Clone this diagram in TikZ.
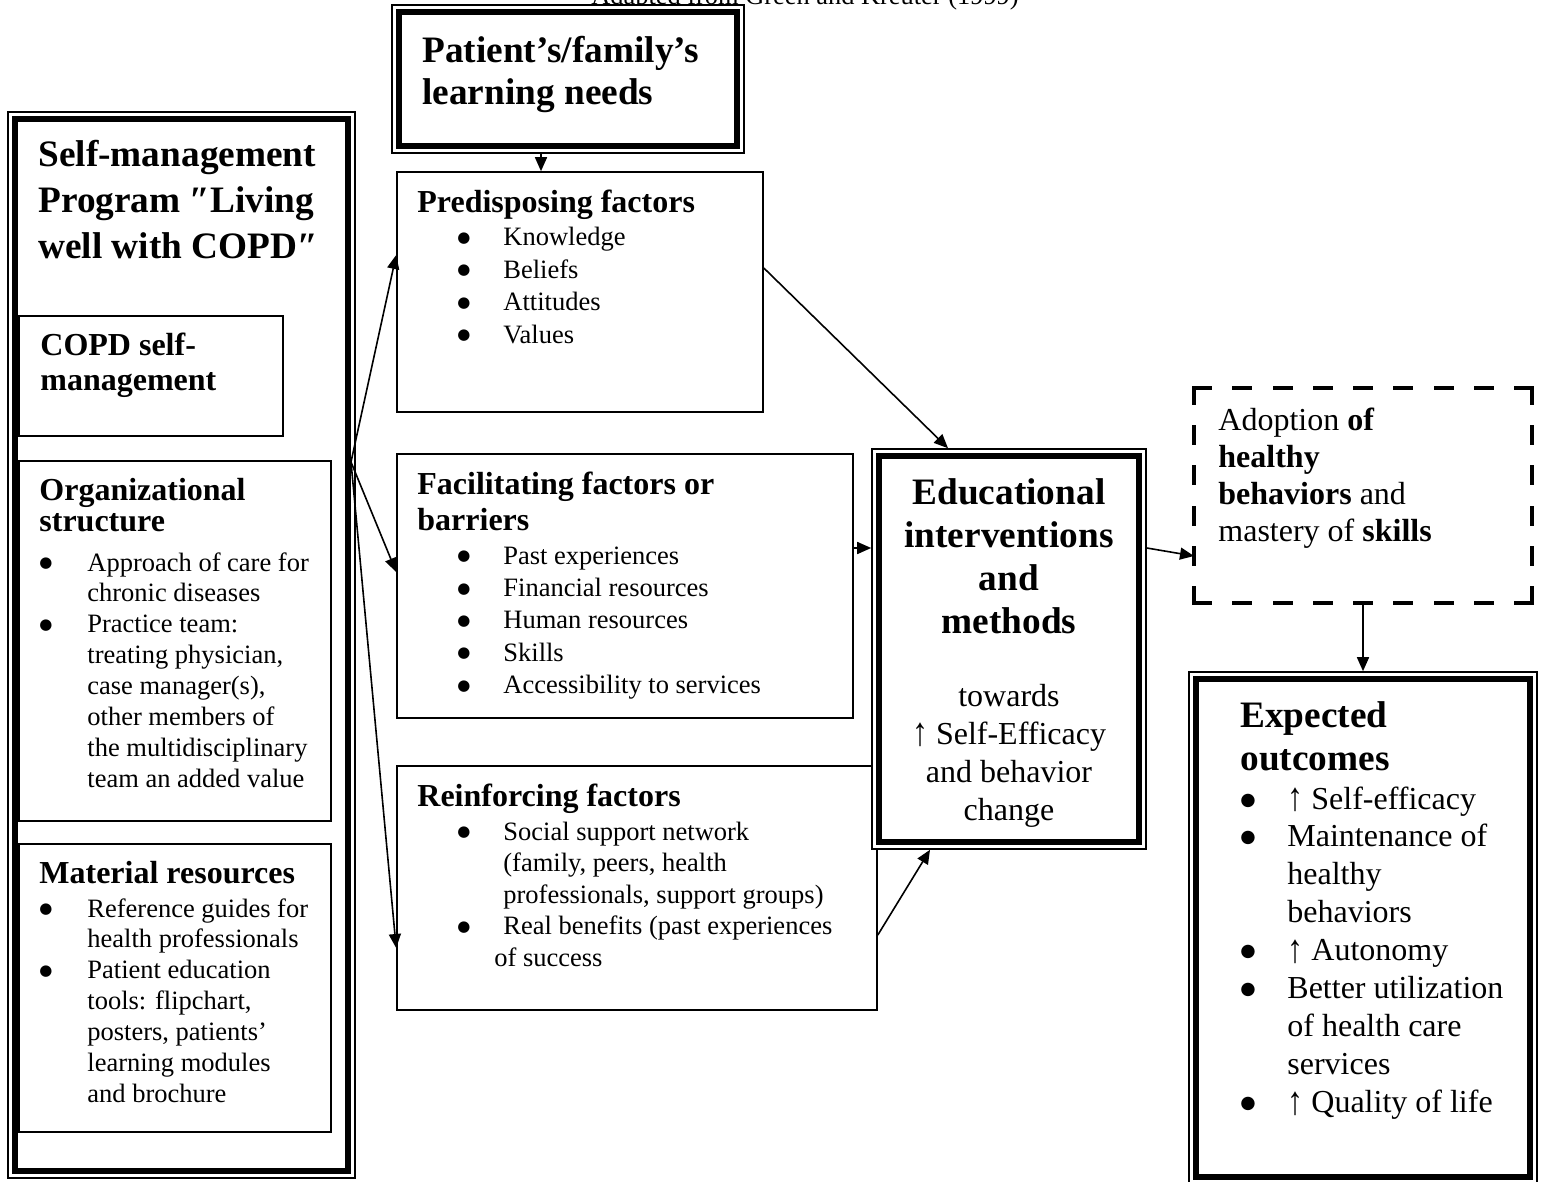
\documentclass[tikz,border=0pt]{standalone}
\usepackage{graphicx}
\usepackage{fontspec}
\setmainfont{Liberation Serif}
\newfontfamily\BulFont{DejaVu Sans}
\usetikzlibrary{arrows.meta,fit}
\newcommand\FTitle{\fontsize{18.65}{23}\selectfont\bfseries}
\newcommand\FHead{\fontsize{16}{17.5}\selectfont\bfseries}
\newcommand\FHeadA{\fontsize{16}{16}\selectfont\bfseries}
\newcommand\FHeadB{\fontsize{16}{18}\selectfont\bfseries}
\newcommand\FBodyL{\fontsize{13.25}{15.45}\selectfont}
\newcommand\FBodyR{\fontsize{13.25}{16.2}\selectfont}
\newcommand\FBodyRr{\fontsize{13.25}{15.75}\selectfont}
\newcommand\Bu{\raisebox{1.7pt}{\BulFont\fontsize{7.5}{7.5}\selectfont ●}}
\newcommand\BuL{\raisebox{2pt}{\BulFont\fontsize{8.8}{8.8}\selectfont ●}}
\newcommand\Up{\raisebox{-0.06em}{\scalebox{1}[1.25]{↑}}}
\begin{document}
\begin{tikzpicture}[x=0.5pt,y=-0.5pt,line join=miter,
  thinbox/.style={draw,line width=0.8pt,inner sep=0pt},
  outerbox/.style={draw,line width=0.8pt,inner sep=0pt,fill=white},
  thickbox/.style={draw,line width=3pt,inner sep=0pt},
  plainbox/.style={inner sep=0pt,outer sep=0pt},
  dashh/.style={line width=2pt,line cap=rect,dash pattern=on 8pt off 12.125pt},
  dashv/.style={line width=2pt,line cap=rect,dash pattern=on 8pt off 12.125pt,dash phase=0.5625pt},
  arr/.style={-{Triangle[length=7pt,width=6pt]},line width=0.8pt},
  txt/.style={inner sep=0pt,anchor=base west}]
\useasboundingbox (0,0) rectangle (1543,1182);

\node[anchor=base,inner sep=0pt,font=\fontsize{13.2}{15}\selectfont] (cap) at (805,5) {Adapted from Green and Kreuter (1999)};

% left program box
\node[outerbox,fit={(8,112)(355,1178)}] (L) {};
\node[thickbox,fit={(15,119)(348,1171)}] (Lin) {};
\node[txt,font=\FTitle] (Lt) at (38,167) {\begin{tabular}[t]{@{}l@{}}Self-management\\Program ″Living\\well with COPD″\end{tabular}};

\node[thinbox,fit={(19,316)(283,436)}] (C) {};
\node[txt,font=\FHead] (Ct) at (40,356) {\begin{tabular}[t]{@{}l@{}}COPD self-\\management\end{tabular}};

\node[thinbox,fit={(19,461)(331,821)}] (O) {};
\node[txt,font=\FHeadA] (Oh) at (39,500) {\begin{tabular}[t]{@{}l@{}}Organizational\\structure\end{tabular}};
\node[txt,font=\FBodyL] (Ol) at (39,571) {\begin{tabular}[t]{@{}p{24pt}@{}l@{}}\Bu&Approach of care for\\&chronic diseases\\\Bu&Practice team:\\&treating physician,\\&case manager(s),\\&other members of\\&the multidisciplinary\\&team an added value\end{tabular}};

\node[thinbox,fit={(19,844)(331,1132)}] (M) {};
\node[txt,font=\FHead] (Mh) at (39,883) {Material resources};
\node[txt,font=\FBodyL] (Ml) at (39,917) {\begin{tabular}[t]{@{}p{24pt}@{}l@{}}\Bu&Reference guides for\\&health professionals\\\Bu&Patient education\\&tools: flipchart,\\&posters, patients’\\&learning modules\\&and brochure\end{tabular}};

% learning needs
\node[outerbox,fit={(392,5)(744,153)}] (Pat) {};
\node[thickbox,fit={(399,12)(737,146)}] (Patin) {};
\node[txt,font=\fontsize{18.65}{21}\selectfont\bfseries] (Patt) at (422,63) {\begin{tabular}[t]{@{}l@{}}Patient’s/family’s\\learning needs\end{tabular}};

% predisposing
\node[thinbox,fit={(397,172)(763,412)}] (Pre) {};
\node[txt,font=\FHead] (Preh) at (417,213) {Predisposing factors};
\node[txt,font=\FBodyR] (Prel) at (457,246) {\begin{tabular}[t]{@{}p{23pt}@{}l@{}}\Bu&Knowledge\\\Bu&Beliefs\\\Bu&Attitudes\\\Bu&Values\end{tabular}};

% facilitating
\node[thinbox,fit={(397,454)(853,718)}] (Fac) {};
\node[txt,font=\FHeadB] (Fach) at (417,494) {\begin{tabular}[t]{@{}l@{}}Facilitating factors or\\barriers\end{tabular}};
\node[txt,font=\FBodyR] (Facl) at (457,564) {\begin{tabular}[t]{@{}p{23pt}@{}l@{}}\Bu&Past experiences\\\Bu&Financial resources\\\Bu&Human resources\\\Bu&Skills\\\Bu&Accessibility to services\end{tabular}};

% reinforcing
\node[thinbox,fit={(397,766)(877,1010)}] (Rei) {};
\node[txt,font=\FHead] (Reih) at (417,806) {Reinforcing factors};
\node[txt,font=\FBodyRr] (Reil) at (457,840) {\begin{tabular}[t]{@{}p{23pt}@{}l@{}}\Bu&Social support network\\&(family, peers, health\\&professionals, support groups)\\\Bu&Real benefits (past experiences\\\multicolumn{2}{@{}l@{}}{\hspace{18.5pt}of success}\end{tabular}};

% educational
\node[outerbox,fit={(872,449)(1146,849)}] (Edu) {};
\node[thickbox,fit={(879,456)(1139,842)}] (Eduin) {};
\node[anchor=base,inner sep=0pt,font=\fontsize{18.65}{21.5}\selectfont\bfseries] (Edut) at (1009,504) {\begin{tabular}[t]{@{}c@{}}Educational\\interventions\\and\\methods\end{tabular}};
\node[anchor=base,inner sep=0pt,font=\fontsize{16}{19}\selectfont] (Edus) at (1009,706) {\begin{tabular}[t]{@{}c@{}}towards\\\Up{} Self-Efficacy\\and behavior\\change\end{tabular}};

% adoption (dashed frame drawn side by side)
\node[plainbox,fit={(1194,388)(1532,603)}] (Ado) {};
\draw[dashh] (Ado.north west) -- (Ado.north east);
\draw[dashh] (Ado.south west) -- (Ado.south east);
\draw[dashv] (Ado.north west) -- (Ado.south west);
\draw[dashv] (Ado.north east) -- (Ado.south east);
\node[txt,font=\fontsize{16}{18.5}\selectfont] (Adot) at (1218,430) {\begin{tabular}[t]{@{}l@{}}Adoption \textbf{of}\\\textbf{healthy}\\\textbf{behaviors} and\\mastery of \textbf{skills}\end{tabular}};

% expected
\node[outerbox,fit={(1189,672)(1537,1184)}] (Exp) {};
\node[thickbox,fit={(1196,679)(1530,1177)}] (Expin) {};
\node[txt,font=\fontsize{18.65}{21.5}\selectfont\bfseries] (Exph) at (1240,727) {\begin{tabular}[t]{@{}l@{}}Expected\\outcomes\end{tabular}};
\node[txt,font=\fontsize{16}{18.95}\selectfont] (Expl) at (1240,809) {\begin{tabular}[t]{@{}p{23.5pt}@{}l@{}}\BuL&\Up{} Self-efficacy\\\BuL&Maintenance of\\&healthy\\&behaviors\\\BuL&\Up{} Autonomy\\\BuL&Better utilization\\&of health care\\&services\\\BuL&\Up{} Quality of life\end{tabular}};

% connectors
\coordinate (src) at ([yshift=91.5pt]Lin.east);
\draw[arr] ([xshift=-13.5pt]Pat.south) -- ([xshift=-13.5pt]Pat.south |- Pre.north);
\draw[arr] (src) -- ([yshift=18.5pt]Pre.west);
\draw[arr] (src) -- ([yshift=7pt]Fac.west);
\draw[arr] (src) -- ([yshift=-30pt]Rei.west);
\draw[arr] ([yshift=12pt]Pre.east) -- ([xshift=-30.5pt]Edu.north);
\draw[arr] ([yshift=19pt]Fac.east) -- ([yshift=19pt]Fac.east -| Edu.west);
\draw[arr] ([yshift=-23.5pt]Rei.east) -- ([xshift=-39.5pt]Edu.south);
\draw[arr] ([yshift=50.5pt]Edu.east) -- ([yshift=-30.25pt]Ado.west);
\draw[arr] ([yshift=-1pt]Ado.south) -- (Exp.north);
\end{tikzpicture}
\end{document}
